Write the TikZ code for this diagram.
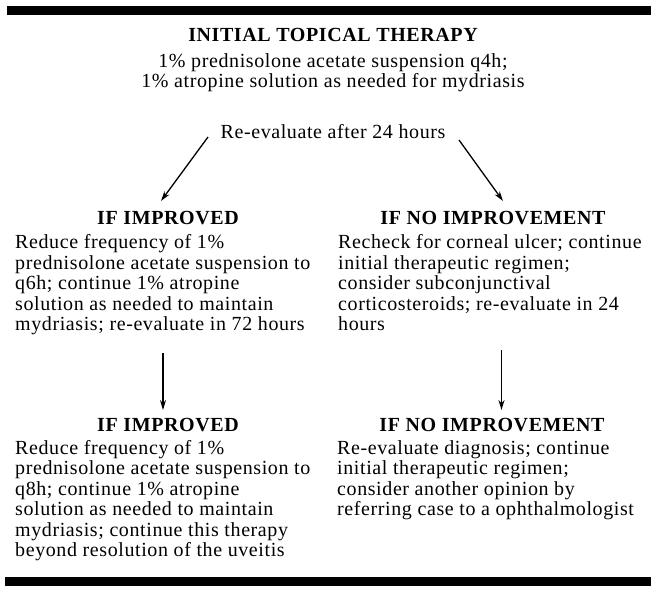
\documentclass[tikz,border=0pt]{standalone}
\usepackage{fontspec}
\setmainfont{Liberation Serif}[LetterSpace=3]
\usetikzlibrary{arrows.meta}
\begin{document}
\begin{tikzpicture}[x=1pt,y=-1pt,
  txt/.style={font=\fontsize{20}{20.5}\selectfont, inner sep=0pt, align=left, anchor=base west},
  head/.style={font=\fontsize{20}{20.5}\selectfont\bfseries, inner sep=0pt, anchor=base},
  arr/.style={line width=1.3pt, -{Stealth[length=10pt,width=6pt]}},
  bar/.style={line width=9pt}]
\useasboundingbox (0,0) rectangle (651,591);
\draw[bar] (7,11) -- (651,11);
\draw[bar] (5,581) -- (651,581);
% multi-line nodes: base anchor = baseline of last line
\node[head] (title) at (333,42) {INITIAL TOPICAL THERAPY};
\node[txt, anchor=base, align=center] (drugs) at (333,88) {1\% prednisolone acetate suspension q4h;\\1\% atropine solution as needed for mydriasis};
\node[txt, anchor=base] (reval) at (333,139) {Re-evaluate after 24 hours};
\node[head] (h1) at (168,225) {IF IMPROVED};
\node[txt] (b1) at (15,330.5) {Reduce frequency of 1\%\\prednisolone acetate suspension to\\q6h; continue 1\% atropine\\solution as needed to maintain\\mydriasis; re-evaluate in 72 hours};
\node[head] (h2) at (493,225) {IF NO IMPROVEMENT};
\node[txt] (b2) at (338,330.5) {Recheck for corneal ulcer; continue\\initial therapeutic regimen;\\consider subconjunctival\\corticosteroids; re-evaluate in 24\\hours};
\node[head] (h3) at (168,431) {IF IMPROVED};
\node[txt] (b3) at (15,556.5) {Reduce frequency of 1\%\\prednisolone acetate suspension to\\q8h; continue 1\% atropine\\solution as needed to maintain\\mydriasis; continue this therapy\\beyond resolution of the uveitis};
\node[head] (h4) at (492,431) {IF NO IMPROVEMENT};
\node[txt] (b4) at (337,515.5) {Re-evaluate diagnosis; continue\\initial therapeutic regimen;\\consider another opinion by\\referring case to a ophthalmologist};
\coordinate (a1s) at (208,137); \coordinate (a1e) at (161,201);
\coordinate (a2s) at (459,140); \coordinate (a2e) at (503,201);
\coordinate (a3s) at (163,353); \coordinate (a3e) at (163,410);
\coordinate (a4s) at (501.5,350); \coordinate (a4e) at (501.5,410);
\draw[arr] (a1s) -- (a1e);
\draw[arr] (a2s) -- (a2e);
\draw[arr] (a3s) -- (a3e);
\draw[arr] (a4s) -- (a4e);
\end{tikzpicture}
\end{document}
